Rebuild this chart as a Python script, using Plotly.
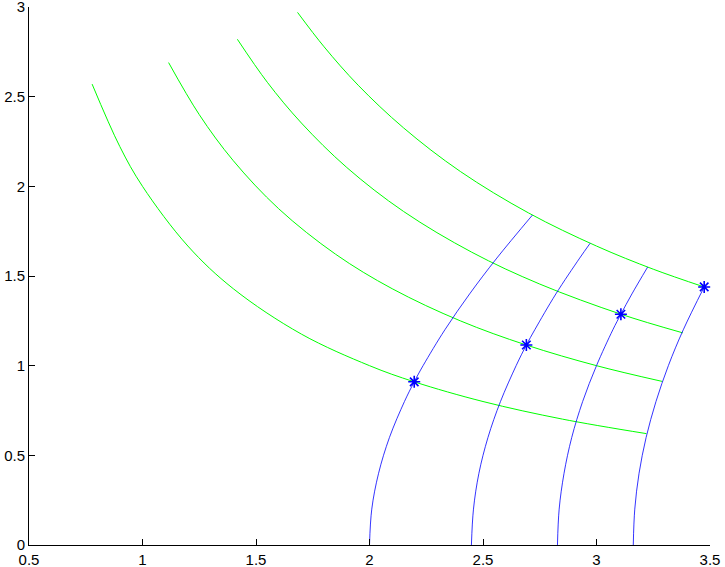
import plotly.graph_objects as go

# Green curves
green1_x = [0.778, 0.9, 1.0, 1.2, 1.4, 1.7, 2.0, 2.197, 2.5, 2.85, 3.22]
green1_y = [2.57, 2.222, 2.0, 1.667, 1.429, 1.176, 1.0, 0.910, 0.8, 0.702, 0.621]
green2_x = [1.115, 1.25, 1.4, 1.6, 1.85, 2.1, 2.4, 2.691, 3.0, 3.29]
green2_y = [2.69, 2.4, 2.143, 1.875, 1.622, 1.429, 1.25, 1.115, 1.0, 0.912]
green3_x = [1.418, 1.55, 1.7, 1.9, 2.15, 2.45, 2.75, 3.1075, 3.38]
green3_y = [2.82, 2.58, 2.353, 2.105, 1.86, 1.633, 1.455, 1.287, 1.183]
green4_x = [1.683, 1.8, 1.95, 2.15, 2.4, 2.7, 3.0, 3.25, 3.474]
green4_y = [2.97, 2.778, 2.564, 2.326, 2.083, 1.852, 1.667, 1.538, 1.439]

# Blue curves
blue1_x = [2.0, 2.01, 2.04, 2.088, 2.154, 2.197, 2.236, 2.332, 2.441, 2.561, 2.718]
blue1_y = [0.0, 0.2, 0.4, 0.6, 0.8, 0.91, 1.0, 1.2, 1.4, 1.6, 1.84]
blue2_x = [2.449, 2.458, 2.482, 2.522, 2.577, 2.646, 2.691, 2.728, 2.821, 2.926, 2.972]
blue2_y = [0.0, 0.2, 0.4, 0.6, 0.8, 1.0, 1.115, 1.2, 1.4, 1.6, 1.6825]
blue3_x = [2.828, 2.8355, 2.857, 2.891, 2.939, 3.0, 3.072, 3.1075, 3.156, 3.2254]
blue3_y = [0.0, 0.2, 0.4, 0.6, 0.8, 1.0, 1.2, 1.287, 1.4, 1.55]
blue4_x = [3.162, 3.1686, 3.1875, 3.2187, 3.262, 3.3166, 3.3823, 3.4744]
blue4_y = [0.0, 0.2, 0.4, 0.6, 0.8, 1.0, 1.2, 1.439]

# Star markers at the intersections
star_x = [2.197, 2.691, 3.1075, 3.4744]
star_y = [0.910, 1.115, 1.287, 1.439]

x_ticks = [0.5, 1, 1.5, 2, 2.5, 3, 3.5]
y_ticks = [0, 0.5, 1, 1.5, 2, 2.5, 3]

GREEN = "#00FF00"
BLUE = "#0000FF"

fig = go.Figure()
for gx, gy in [(green1_x, green1_y), (green2_x, green2_y), (green3_x, green3_y), (green4_x, green4_y)]:
    fig.add_trace(go.Scatter(x=gx, y=gy, mode="lines",
                             line=dict(color=GREEN, width=1, shape="spline", smoothing=1.0),
                             showlegend=False, hoverinfo="skip"))
for bx, by in [(blue1_x, blue1_y), (blue2_x, blue2_y), (blue3_x, blue3_y), (blue4_x, blue4_y)]:
    fig.add_trace(go.Scatter(x=bx, y=by, mode="lines",
                             line=dict(color=BLUE, width=0.8, shape="spline", smoothing=1.0),
                             showlegend=False, hoverinfo="skip"))
fig.add_trace(go.Scatter(x=star_x, y=star_y, mode="markers",
                         marker=dict(symbol="asterisk-open", size=10,
                                     line=dict(color=BLUE, width=1.6), color=BLUE),
                         showlegend=False, cliponaxis=False))

axis_common = dict(showgrid=False, zeroline=False, showline=True, linecolor="black",
                   linewidth=1, ticks="inside", ticklen=6, tickcolor="black",
                   mirror=False, automargin=False, ticklabeloverflow="allow",
                   tickfont=dict(family="Liberation Sans, Arial", size=15, color="black"))

fig.update_layout(
    width=725, height=567,
    margin=dict(l=29, r=15, t=7, b=22),
    paper_bgcolor="white", plot_bgcolor="white",
    xaxis=dict(range=[0.5, 3.5], tickvals=x_ticks, ticktext=[str(v) for v in x_ticks],
               ticklabelstandoff=1, **axis_common),
    yaxis=dict(range=[0, 3], tickvals=y_ticks, ticktext=[str(v) for v in y_ticks],
               ticklabelstandoff=0, **axis_common),
)

fig.write_html("out.html", config={"displayModeBar": False},
               post_script="document.body.style.margin='0';document.body.style.overflow='hidden';")
